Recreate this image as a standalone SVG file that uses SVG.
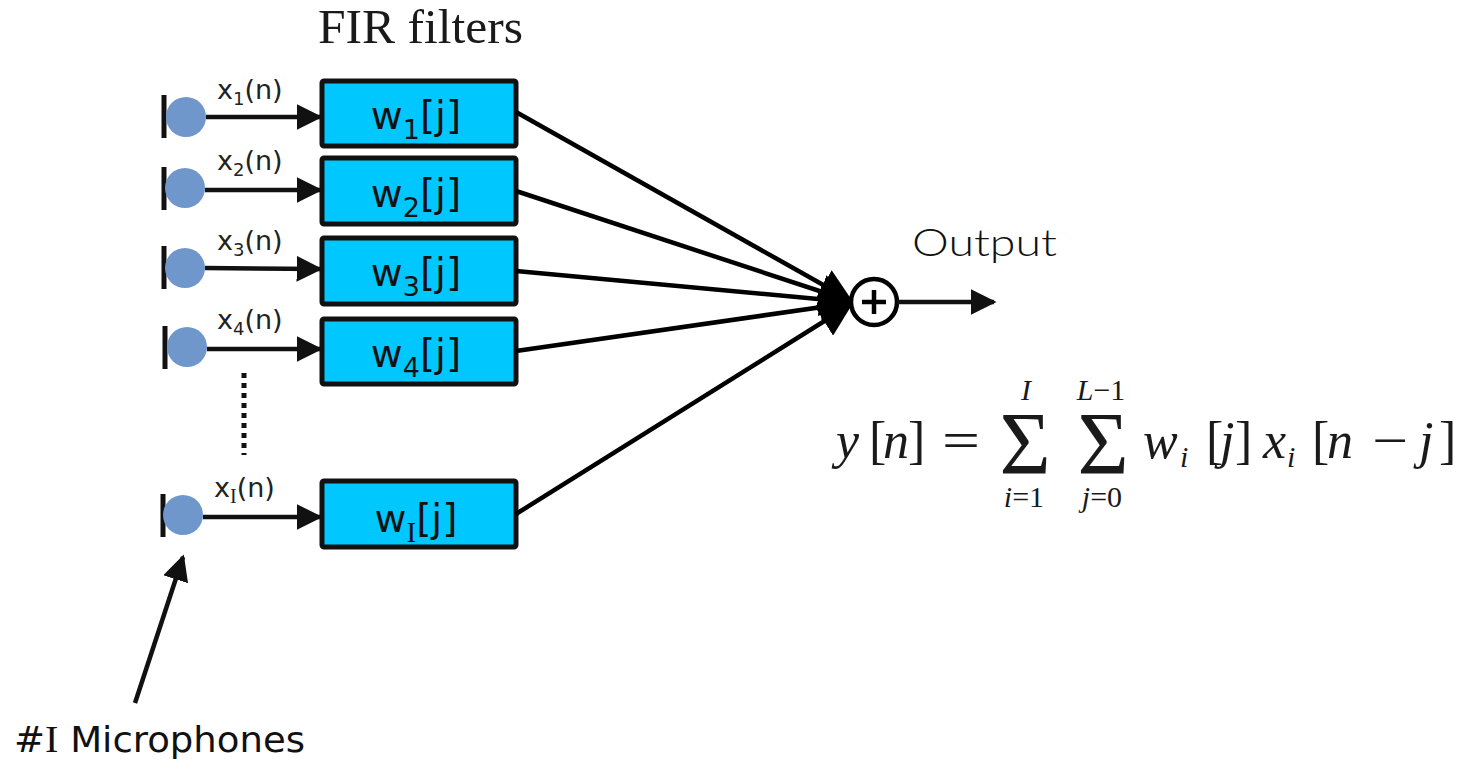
<svg xmlns="http://www.w3.org/2000/svg" width="1468" height="763" viewBox="0 0 1468 763">
  <defs>
    <marker id="ah" viewBox="0 0 10 10" refX="9" refY="5" markerWidth="26" markerHeight="26" markerUnits="userSpaceOnUse" orient="auto">
      <path d="M0,0 L10,5 L0,10 z" fill="#111"/>
    </marker>
    <marker id="ahBig" viewBox="0 0 10 10" refX="9" refY="5" markerWidth="34" markerHeight="34" markerUnits="userSpaceOnUse" orient="auto">
      <path d="M0,0 L10,5 L0,10 z" fill="#000"/>
    </marker>
    <style>
      .mic { fill: #6f97cb; }
      .bar { stroke: #111; stroke-width: 5; }
      .box { fill: #00c8ff; stroke: #111; stroke-width: 5; }
      .sig { stroke: #111; stroke-width: 4.5; fill: none; marker-end: url(#ah); }
      .feed { stroke: #000; stroke-width: 4.5; fill: none; marker-end: url(#ahBig); }
      .lbl { font-family: "DejaVu Sans", Verdana, sans-serif; font-size: 27px; fill: #222; }
      .wl { font-family: "DejaVu Sans", Verdana, sans-serif; font-size: 39px; fill: #111; text-anchor: middle; }
      .serifI { font-family: "Liberation Serif", "Times New Roman", serif; }
      .m { font-family: "Liberation Serif", "Times New Roman", serif; fill: #1a1a1a; }
      .big { font-size: 52px; }
      .lim { font-size: 30px; }
      .it { font-style: italic; }
    </style>
  </defs>

  <!-- title -->
  <text x="318" y="43" class="m" font-size="48" textLength="205" lengthAdjust="spacingAndGlyphs" fill="#000">FIR filters</text>

  <!-- microphones -->
  <g id="mic1"><line class="bar" x1="164" y1="95" x2="164" y2="138"/><circle class="mic" cx="186" cy="117" r="20"/></g>
  <g id="mic2"><line class="bar" x1="164" y1="167" x2="164" y2="210"/><circle class="mic" cx="185" cy="188" r="20"/></g>
  <g id="mic3"><line class="bar" x1="164" y1="246" x2="164" y2="289"/><circle class="mic" cx="185" cy="268" r="20"/></g>
  <g id="mic4"><line class="bar" x1="165" y1="326" x2="165" y2="369"/><circle class="mic" cx="187" cy="347" r="20"/></g>
  <g id="micI"><line class="bar" x1="163" y1="494" x2="163" y2="537"/><circle class="mic" cx="183" cy="515" r="20"/></g>

  <!-- ellipsis between channel 4 and channel I -->
  <line x1="244" y1="373" x2="244" y2="455" stroke="#111" stroke-width="5" stroke-dasharray="5,5"/>

  <!-- filter boxes -->
  <g id="filter1"><rect class="box" x="322" y="81" width="194" height="65" rx="2"/>
    <text class="wl" x="416" y="129">w<tspan font-size="27" dy="10">1</tspan><tspan dy="-10">[j]</tspan></text></g>
  <g id="filter2"><rect class="box" x="322" y="158" width="194" height="66" rx="2"/>
    <text class="wl" x="416" y="207">w<tspan font-size="27" dy="10">2</tspan><tspan dy="-10">[j]</tspan></text></g>
  <g id="filter3"><rect class="box" x="322" y="238" width="194" height="66" rx="2"/>
    <text class="wl" x="416" y="286">w<tspan font-size="27" dy="10">3</tspan><tspan dy="-10">[j]</tspan></text></g>
  <g id="filter4"><rect class="box" x="322" y="319" width="194" height="65" rx="2"/>
    <text class="wl" x="416" y="367">w<tspan font-size="27" dy="10">4</tspan><tspan dy="-10">[j]</tspan></text></g>
  <g id="filterI"><rect class="box" x="322" y="481" width="194" height="66" rx="2"/>
    <text class="wl" x="416" y="532">w<tspan class="serifI" font-size="29" dy="10">I</tspan><tspan dy="-10">[j]</tspan></text></g>

  <!-- signal labels -->
  <g id="labels">
    <text class="lbl" x="217" y="99">x<tspan font-size="18" dy="6">1</tspan><tspan dy="-6">(n)</tspan></text>
    <text class="lbl" x="217" y="170">x<tspan font-size="18" dy="6">2</tspan><tspan dy="-6">(n)</tspan></text>
    <text class="lbl" x="217" y="250">x<tspan font-size="18" dy="6">3</tspan><tspan dy="-6">(n)</tspan></text>
    <text class="lbl" x="217" y="329">x<tspan font-size="18" dy="6">4</tspan><tspan dy="-6">(n)</tspan></text>
    <text class="lbl" x="214" y="497">x<tspan class="serifI" font-size="20" dy="6">I</tspan><tspan dy="-6">(n)</tspan></text>
  </g>

  <!-- summing node -->
  <g id="sum">
    <circle cx="874" cy="302" r="23" fill="#fff" stroke="#000" stroke-width="4.5"/>
    <line x1="862" y1="302" x2="886" y2="302" stroke="#000" stroke-width="4.5"/>
    <line x1="874" y1="290" x2="874" y2="314" stroke="#000" stroke-width="4.5"/>
  </g>
  <text x="912" y="256" font-family="Lato, 'DejaVu Sans', sans-serif" font-weight="300" font-size="38" textLength="145" lengthAdjust="spacingAndGlyphs" fill="#111">Output</text>

  <!-- connectors -->
  <g id="connectors">
    <line class="sig" x1="206" y1="117" x2="320" y2="117"/>
    <line class="sig" x1="205" y1="190" x2="320" y2="190"/>
    <line class="sig" x1="205" y1="268" x2="320" y2="269"/>
    <line class="sig" x1="207" y1="349" x2="320" y2="349"/>
    <line class="sig" x1="203" y1="517" x2="320" y2="517"/>

    <line class="feed" x1="516" y1="112" x2="850" y2="300"/>
    <line class="feed" x1="516" y1="191" x2="850" y2="301"/>
    <line class="feed" x1="516" y1="271" x2="850" y2="302"/>
    <line class="feed" x1="516" y1="351" x2="850" y2="303"/>
    <line class="feed" x1="516" y1="514" x2="850" y2="305"/>

    <line class="sig" x1="897" y1="302" x2="994" y2="302"/>

    <line class="sig" x1="135" y1="703" x2="183" y2="557"/>
  </g>

  <text x="14" y="752" font-family="'DejaVu Sans', Verdana, sans-serif" font-size="35" textLength="291" lengthAdjust="spacingAndGlyphs" fill="#111">#<tspan class="serifI" font-size="38">I</tspan> Microphones</text>

  <!-- output equation: y[n] = sum_i sum_j w_i[j] x_i[n-j] -->
  <g id="equation" class="m">
    <text class="big it" x="836" y="458">y</text>
    <text class="big" x="869" y="458">[</text>
    <text class="big it" x="883" y="458">n</text>
    <text class="big" x="908" y="458">]</text>
    <text class="big" x="942" y="458" textLength="38" lengthAdjust="spacingAndGlyphs">=</text>

    <text x="1025" y="473" font-size="88" text-anchor="middle">Σ</text>
    <text x="1103" y="473" font-size="88" text-anchor="middle">Σ</text>

    <text class="lim it" x="1026" y="400" text-anchor="middle">I</text>
    <text class="lim" x="1101" y="400" text-anchor="middle"><tspan class="it">L</tspan>−1</text>
    <text class="lim" x="1024" y="507" text-anchor="middle"><tspan class="it">i</tspan>=1</text>
    <text class="lim" x="1102" y="507" text-anchor="middle"><tspan class="it">j</tspan>=0</text>

    <text class="big it" x="1143" y="458">w</text>
    <text class="lim it" x="1180" y="467">i</text>
    <text class="big" x="1206" y="458">[</text>
    <text class="big it" x="1220" y="458">j</text>
    <text class="big" x="1235" y="458">]</text>
    <text class="big it" x="1263" y="458">x</text>
    <text class="lim it" x="1287" y="467">i</text>
    <text class="big" x="1312" y="458">[</text>
    <text class="big it" x="1327" y="458">n</text>
    <text class="big" x="1372" y="458" textLength="36" lengthAdjust="spacingAndGlyphs">−</text>
    <text class="big it" x="1419" y="458">j</text>
    <text class="big" x="1439" y="458">]</text>
  </g>
</svg>
